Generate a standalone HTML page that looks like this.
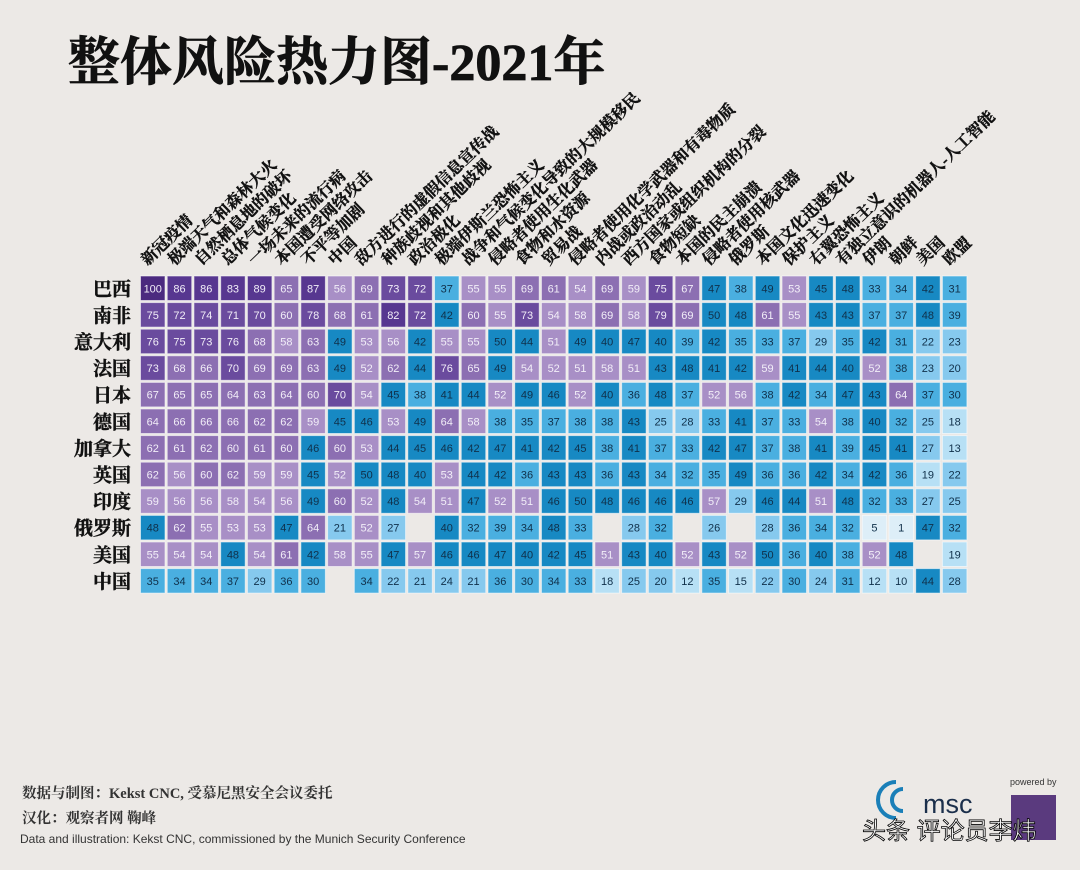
<!DOCTYPE html>
<html><head><meta charset="utf-8">
<style>
body{margin:0;background:#ece9e6;}
#wrap{position:relative;width:1080px;height:870px;overflow:hidden;background:#ece9e6;font-family:"Liberation Serif","Noto Serif CJK SC",serif;}
</style></head>
<body>
<div id="wrap">
<svg id="chart" width="1080" height="870">
<text x="68" y="80" font-size="52" font-weight="bold" fill="#111" stroke="#111" stroke-width="0.8" font-family="'Liberation Serif','Noto Serif CJK SC',serif">整体风险热力图-2021年</text>
<g id="cols"></g><g id="rows"></g><g id="cells"></g>
<text x="22" y="798" font-size="14.5" font-weight="bold" fill="#333" font-family="'Liberation Serif','Noto Serif CJK SC',serif">数据与制图：Kekst CNC, 受慕尼黑安全会议委托</text>
<text x="22" y="823" font-size="14.5" font-weight="bold" fill="#333" font-family="'Liberation Serif','Noto Serif CJK SC',serif">汉化：观察者网 鞠峰</text>
<text x="20" y="843" font-size="12" fill="#333" font-family="'Liberation Sans',sans-serif">Data and illustration: Kekst CNC, commissioned by the Munich Security Conference</text>
<g>
<path d="M896 782 A18 18 0 0 0 896 818" stroke="#1a7fb8" stroke-width="4" fill="none"/>
<path d="M903 789 A10 10 0 0 0 903 811" stroke="#1a7fb8" stroke-width="4" fill="none"/>
<text x="923" y="813" font-size="27" fill="#1b2f4b" font-family="'Liberation Sans',sans-serif">msc</text>
</g>
<text x="1010" y="785" font-size="9" fill="#333" font-family="'Liberation Sans',sans-serif">powered by</text>
<rect x="1011" y="795" width="45" height="45" fill="#5a3a7e"/>
<text x="862" y="839" font-size="24" fill="#fff" stroke="#000" stroke-width="0.8" font-family="'Liberation Sans','Noto Sans CJK SC',sans-serif">头条 评论员李炜</text>
</svg>
</div>
<script>
const risks=["新冠疫情","极端天气和森林大火","自然栖息地的破坏","总体气候变化","一场未来的流行病","本国遭受网络攻击","不平等加剧","中国","敌方进行的虚假信息宣传战","种族歧视和其他歧视","政治极化","极端伊斯兰恐怖主义","战争和气候变化导致的大规模移民","侵略者使用生化武器","食物和水资源","贸易战","侵略者使用化学武器和有毒物质","内战或政治动乱","西方国家或组织机构的分裂","食物短缺","本国的民主崩溃","侵略者使用核武器","俄罗斯","本国文化迅速变化","保护主义","右翼恐怖主义","有独立意识的机器人-人工智能","伊朗","朝鲜","美国","欧盟"];
const countries=["巴西","南非","意大利","法国","日本","德国","加拿大","英国","印度","俄罗斯","美国","中国"];
const rBrazil=[100,86,86,83,89,65,87,56,69,73,72,37,55,55,69,61,54,69,59,75,67,47,38,49,53,45,48,33,34,42,31];
const rSouthAfrica=[75,72,74,71,70,60,78,68,61,82,72,42,60,55,73,54,58,69,58,79,69,50,48,61,55,43,43,37,37,48,39];
const rItaly=[76,75,73,76,68,58,63,49,53,56,42,55,55,50,44,51,49,40,47,40,39,42,35,33,37,29,35,42,31,22,23];
const rFrance=[73,68,66,70,69,69,63,49,52,62,44,76,65,49,54,52,51,58,51,43,48,41,42,59,41,44,40,52,38,23,20];
const rJapan=[67,65,65,64,63,64,60,70,54,45,38,41,44,52,49,46,52,40,36,48,37,52,56,38,42,34,47,43,64,37,30];
const rGermany=[64,66,66,66,62,62,59,45,46,53,49,64,58,38,35,37,38,38,43,25,28,33,41,37,33,54,38,40,32,25,18];
const rCanada=[62,61,62,60,61,60,46,60,53,44,45,46,42,47,41,42,45,38,41,37,33,42,47,37,38,41,39,45,41,27,13];
const rUK=[62,56,60,62,59,59,45,52,50,48,40,53,44,42,36,43,43,36,43,34,32,35,49,36,36,42,34,42,36,19,22];
const rIndia=[59,56,56,58,54,56,49,60,52,48,54,51,47,52,51,46,50,48,46,46,46,57,29,46,44,51,48,32,33,27,25];
const rRussia=[48,62,55,53,53,47,64,21,52,27,null,40,32,39,34,48,33,null,28,32,null,26,null,28,36,34,32,5,1,47,32];
const rUSA=[55,54,54,48,54,61,42,58,55,47,57,46,46,47,40,42,45,51,43,40,52,43,52,50,36,40,38,52,48,null,19];
const rChina=[35,34,34,37,29,36,30,null,34,22,21,24,21,36,30,34,33,18,25,20,12,35,15,22,30,24,31,12,10,44,28];
const values=[rBrazil,rSouthAfrica,rItaly,rFrance,rJapan,rGermany,rCanada,rUK,rIndia,rRussia,rUSA,rChina];

const NS="http://www.w3.org/2000/svg";
const X0=140.5,PX=26.73,Y0=276,PY=26.6,CS=24.5;
const xPos=i=>X0+i*PX, yPos=j=>Y0+j*PY;
function color(v){
 if(v>50){ if(v>=90)return"#4b2a7f"; if(v>=80)return"#573790"; if(v>=70)return"#6a4b9e"; if(v>=60)return"#8c6fb2"; return"#a88fc6";}
 if(v>=40)return"#1789c3"; if(v>=30)return"#4aafe0"; if(v>=20)return"#86c9ee"; if(v>=10)return"#b7e0f5"; return"#ddeef8";
}
const cells=document.getElementById('cells'),rows=document.getElementById('rows'),cols=document.getElementById('cols');
countries.forEach((c,j)=>{
 const t=document.createElementNS(NS,'text');
 t.setAttribute('x',131);t.setAttribute('y',yPos(j)+CS/2+7);t.setAttribute('text-anchor','end');
 t.setAttribute('font-size','19');t.setAttribute('font-weight','bold');t.setAttribute('fill','#111');
 t.setAttribute('stroke','#111');t.setAttribute('stroke-width','0.4');
 t.setAttribute('font-family',"'Liberation Serif','Noto Serif CJK SC',serif");
 
 
 t.textContent=c;rows.appendChild(t);
});
risks.forEach((r,i)=>{
 const t=document.createElementNS(NS,'text');
 const x=xPos(i)+7,y=266;
 t.setAttribute('x',x);t.setAttribute('y',y);
 t.setAttribute('transform','rotate(-44 '+x+' '+y+')');
 t.setAttribute('font-size','16');t.setAttribute('font-weight','bold');t.setAttribute('fill','#111');
 t.setAttribute('stroke','#111');t.setAttribute('stroke-width','0.4');
 t.setAttribute('font-family',"'Liberation Serif','Noto Serif CJK SC',serif");
 
 
 t.textContent=r;cols.appendChild(t);
});
values.forEach((row,j)=>{row.forEach((v,i)=>{
 if(v===null)return;
 const g=document.createElementNS(NS,'g');
 
 
 const rc=document.createElementNS(NS,'rect');
 rc.setAttribute('x',xPos(i));rc.setAttribute('y',yPos(j));rc.setAttribute('width',CS);rc.setAttribute('height',CS);
 rc.setAttribute('fill',color(v));rc.setAttribute('stroke','rgba(255,255,255,0.55)');rc.setAttribute('stroke-width','1');
 g.appendChild(rc);
 const t=document.createElementNS(NS,'text');
 t.setAttribute('x',xPos(i)+CS/2);t.setAttribute('y',yPos(j)+CS/2+4);t.setAttribute('text-anchor','middle');
 t.setAttribute('font-size','11');t.setAttribute('fill',v>50?'#f2eef8':'#10304a');
 t.setAttribute('font-family',"'Liberation Sans',sans-serif");
 t.textContent=v;g.appendChild(t);
 cells.appendChild(g);
});});
</script>
</body></html>
